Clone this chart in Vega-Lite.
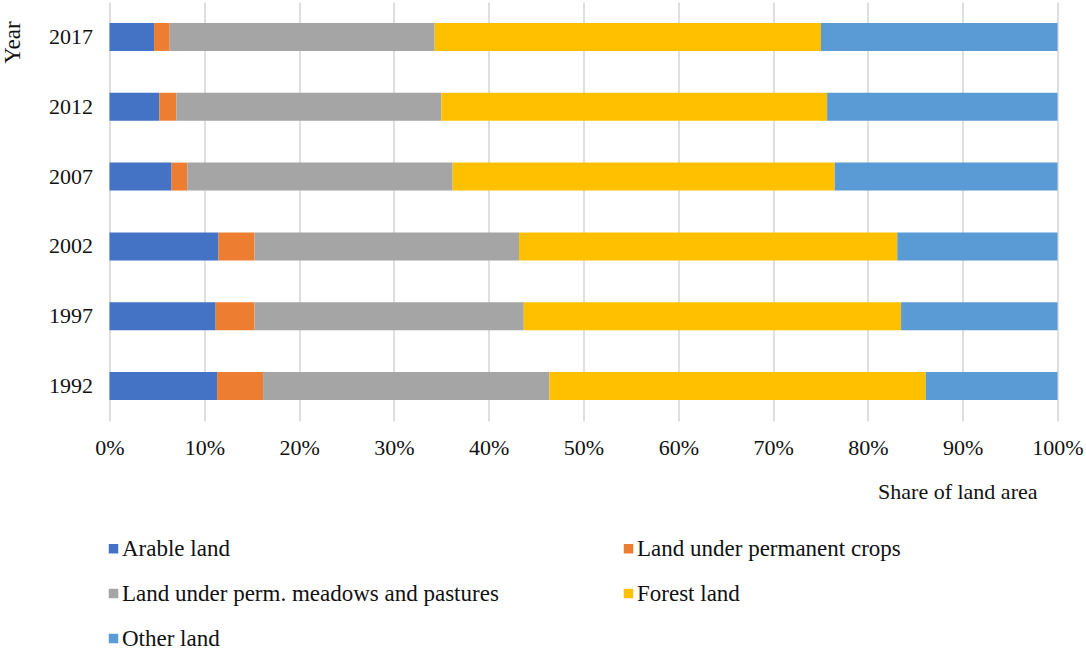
{
  "$schema": "https://vega.github.io/schema/vega-lite/v6.json",
  "width": 948,
  "height": 419,
  "autosize": {"type": "none"},
  "padding": {"left": 109.5, "top": 2, "right": 28.5, "bottom": 231},
  "background": "white",
  "config": {
    "view": {"stroke": null},
    "font": "Liberation Serif"
  },
  "data": {
    "values": [
      {"year": "2017", "type": "Arable land", "value": 4.7},
      {"year": "2017", "type": "Land under permanent crops", "value": 1.65},
      {"year": "2017", "type": "Land under perm. meadows and pastures", "value": 27.95},
      {"year": "2017", "type": "Forest land", "value": 40.75},
      {"year": "2017", "type": "Other land", "value": 24.95},
      {"year": "2012", "type": "Arable land", "value": 5.25},
      {"year": "2012", "type": "Land under permanent crops", "value": 1.8},
      {"year": "2012", "type": "Land under perm. meadows and pastures", "value": 27.95},
      {"year": "2012", "type": "Forest land", "value": 40.7},
      {"year": "2012", "type": "Other land", "value": 24.3},
      {"year": "2007", "type": "Arable land", "value": 6.55},
      {"year": "2007", "type": "Land under permanent crops", "value": 1.65},
      {"year": "2007", "type": "Land under perm. meadows and pastures", "value": 28.0},
      {"year": "2007", "type": "Forest land", "value": 40.3},
      {"year": "2007", "type": "Other land", "value": 23.5},
      {"year": "2002", "type": "Arable land", "value": 11.5},
      {"year": "2002", "type": "Land under permanent crops", "value": 3.8},
      {"year": "2002", "type": "Land under perm. meadows and pastures", "value": 27.9},
      {"year": "2002", "type": "Forest land", "value": 39.9},
      {"year": "2002", "type": "Other land", "value": 16.9},
      {"year": "1997", "type": "Arable land", "value": 11.2},
      {"year": "1997", "type": "Land under permanent crops", "value": 4.1},
      {"year": "1997", "type": "Land under perm. meadows and pastures", "value": 28.4},
      {"year": "1997", "type": "Forest land", "value": 39.8},
      {"year": "1997", "type": "Other land", "value": 16.5},
      {"year": "1992", "type": "Arable land", "value": 11.35},
      {"year": "1992", "type": "Land under permanent crops", "value": 4.85},
      {"year": "1992", "type": "Land under perm. meadows and pastures", "value": 30.2},
      {"year": "1992", "type": "Forest land", "value": 39.7},
      {"year": "1992", "type": "Other land", "value": 13.9}
    ]
  },
  "transform": [
    {"calculate": "indexof(['Arable land', 'Land under permanent crops', 'Land under perm. meadows and pastures', 'Forest land', 'Other land'], datum.type)", "as": "stackOrder"}
  ],
  "mark": {"type": "bar"},
  "encoding": {
    "y": {
      "field": "year",
      "type": "ordinal",
      "sort": "descending",
      "scale": {"paddingInner": 0.6, "paddingOuter": 0.3},
      "axis": {
        "title": "Year",
        "titleFont": "Liberation Serif",
        "titleFontSize": 23,
        "titleFontWeight": "normal",
        "titleColor": "#111111",
        "titleAngle": 270,
        "titleX": -97.5,
        "titleY": 40,
        "titleAlign": "center",
        "titleBaseline": "middle",
        "labelFont": "Liberation Serif",
        "labelFontSize": 22,
        "labelColor": "#111111",
        "labelPadding": 17,
        "ticks": false,
        "domain": false,
        "grid": false
      }
    },
    "x": {
      "field": "value",
      "type": "quantitative",
      "stack": "normalize",
      "scale": {"domain": [0, 1], "nice": false},
      "axis": {
        "title": "Share of land area",
        "titleFont": "Liberation Serif",
        "titleFontSize": 22,
        "titleFontWeight": "normal",
        "titleColor": "#111111",
        "titleX": 927.5,
        "titleY": 70,
        "titleAlign": "right",
        "titleBaseline": "middle",
        "format": ".0%",
        "values": [0, 0.1, 0.2, 0.3, 0.4, 0.5, 0.6, 0.7, 0.8, 0.9, 1],
        "labelFont": "Liberation Serif",
        "labelFontSize": 22,
        "labelColor": "#111111",
        "labelPadding": 16,
        "labelFlush": false,
        "labelOverlap": false,
        "ticks": false,
        "domain": false,
        "grid": true,
        "gridColor": "#d4d4d4",
        "gridWidth": 1.5
      }
    },
    "order": {"field": "stackOrder", "type": "quantitative", "sort": "ascending"},
    "color": {
      "field": "type",
      "type": "nominal",
      "sort": ["Arable land", "Land under permanent crops", "Land under perm. meadows and pastures", "Forest land", "Other land"],
      "scale": {
        "domain": ["Arable land", "Land under permanent crops", "Land under perm. meadows and pastures", "Forest land", "Other land"],
        "range": ["#4472C4", "#ED7D31", "#A5A5A5", "#FFC000", "#5B9BD5"]
      },
      "legend": {
        "title": null,
        "orient": "none",
        "legendX": -7.5,
        "legendY": 535,
        "direction": "horizontal",
        "columns": 2,
        "columnPadding": 118,
        "rowPadding": 21,
        "symbolType": "square",
        "symbolSize": 90,
        "symbolStrokeWidth": 0,
        "labelOffset": -3,
        "labelFont": "Liberation Serif",
        "labelFontSize": 23,
        "labelColor": "#111111",
        "labelLimit": 600
      }
    }
  }
}
